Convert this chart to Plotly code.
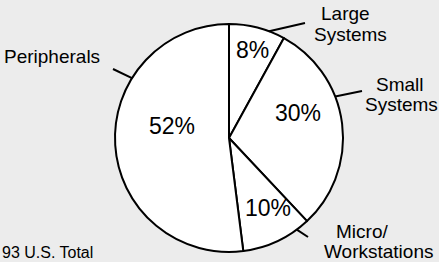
import math
import plotly.graph_objects as go

# ---- data ----
categories = ["Large Systems", "Small Systems", "Micro/Workstations", "Peripherals"]
shares = [8, 30, 10, 52]
label_lines = [["Large", "Systems"], ["Small", "Systems"], ["Micro/", "Workstations"], ["Peripherals"]]
footnote = "93 U.S. Total"

# ---- layout config (pixels) ----
W, H = 439, 262
CX, CY, R = 229, 138, 114
BG = "#ececec"
FONT = "Liberation Sans, Arial, Helvetica, sans-serif"

# percent label centres (px)
pct_pos = [(252, 50), (298, 113), (268, 208), (172, 126)]
# leader lines: (angle where it leaves the circle, outer end x, outer end y)
leaders = [(20.6, 305, 23), (68.7, 362, 91), (143.5, 308, 237), (301.7, 113, 69)]
# outside label line centres (px), one per text line
label_pos = [[(345, 14), (350, 34)], [(400, 84), (401, 104)], [(362, 231), (378, 251)], [(52, 57)]]


def px(x):
    return x / W


def py(y):
    return 1 - y / H


def polar(angle, r):
    a = math.radians(angle)
    return CX + r * math.sin(a), CY - r * math.cos(a)


fig = go.Figure(go.Pie(
    labels=categories,
    values=shares,
    sort=False,
    direction="clockwise",
    rotation=0,
    textinfo="none",
    hoverinfo="label+percent",
    marker=dict(colors=["white"] * len(shares), line=dict(color="black", width=2)),
    domain=dict(x=[px(CX - R), px(CX + R)], y=[py(CY + R), py(CY - R)]),
    showlegend=False,
))

annotations = []
for val, (x, y) in zip(shares, pct_pos):
    annotations.append(dict(x=px(x), y=py(y), xref="paper", yref="paper",
                            text=f"{val}%", showarrow=False,
                            font=dict(size=23, color="black", family=FONT),
                            xanchor="center", yanchor="middle"))
for lines, poss in zip(label_lines, label_pos):
    for txt, (lx, ly) in zip(lines, poss):
        annotations.append(dict(x=px(lx), y=py(ly), xref="paper", yref="paper",
                                text=txt, showarrow=False,
                                font=dict(size=19, color="black", family=FONT),
                                xanchor="center", yanchor="middle"))
annotations.append(dict(x=0, y=py(252), xref="paper", yref="paper",
                        text=footnote, showarrow=False,
                        font=dict(size=16, color="black", family=FONT),
                        xanchor="left", yanchor="middle"))

shapes = []
for ang, ex, ey in leaders:
    sx, sy = polar(ang, R)
    shapes.append(dict(type="line", xref="paper", yref="paper",
                       x0=px(sx), y0=py(sy), x1=px(ex), y1=py(ey),
                       line=dict(color="black", width=2)))

fig.update_layout(
    width=W, height=H,
    margin=dict(l=0, r=0, t=0, b=0),
    paper_bgcolor=BG, plot_bgcolor=BG,
    annotations=annotations,
    shapes=shapes,
)

fig.write_html("out.html", config={"displayModeBar": False},
               post_script="document.body.style.margin='0px';document.body.style.padding='0px';")
